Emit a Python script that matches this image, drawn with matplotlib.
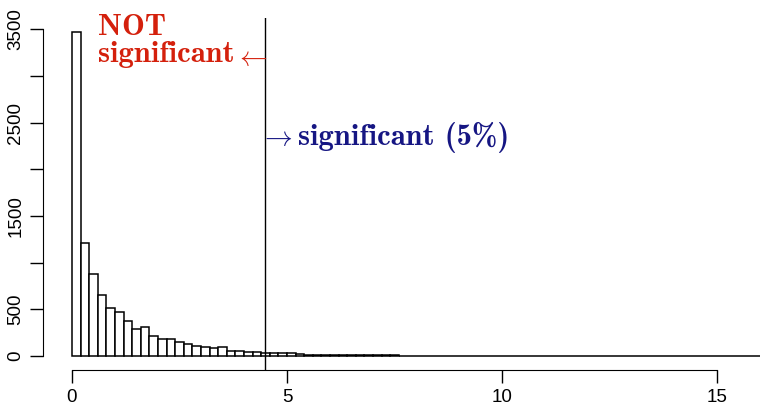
import matplotlib.pyplot as plt

plt.rcParams['mathtext.fontset'] = 'cm'

# histogram counts, bin width 0.2 starting at 0
bin_width = 0.2
counts = [3470, 1215, 875, 655, 515, 470, 375, 290, 315, 215,
          185, 178, 155, 130, 112, 92, 82, 100, 56, 52,
          44, 43, 36, 30, 36, 30, 22, 16, 15, 14,
          15, 12, 13, 9, 8, 7, 8, 6, 5, 4,
          3, 2, 3, 1, 2, 2, 1, 1, 0, 2,
          1, 1, 0, 1, 1, 0, 1, 0, 1, 1,
          0, 0, 1, 1, 0, 1, 0, 0, 1, 1,
          0, 1, 1, 0, 1, 0, 1, 1, 0, 1]
edges = [i * bin_width for i in range(len(counts))]
cutoff = 4.49

xticks = [0, 5, 10, 15]
yticks = [0, 500, 1000, 1500, 2000, 2500, 3000, 3500]
ylabels = ['0', '500', '', '1500', '', '2500', '', '3500']

fig = plt.figure(figsize=(7.61, 4.05), dpi=100)
ax = fig.add_axes([43 / 761, 35 / 405, 718 / 761, 352 / 405])

ax.bar(edges, counts, width=bin_width, align='edge',
       facecolor='white', edgecolor='black', linewidth=1.1)
ax.axvline(cutoff, color='black', linewidth=1.0)

ax.set_xlim(-0.674, 16.02)
ax.set_ylim(-150, 3620)

for s in ['top', 'right']:
    ax.spines[s].set_visible(False)
ax.spines['left'].set_bounds(0, 3500)
ax.spines['bottom'].set_bounds(0, 15)

ax.set_xticks(xticks)
ax.set_xticklabels([str(t) for t in xticks])
ax.set_yticks(yticks)
ax.set_yticklabels(ylabels, rotation=90, va='center')
ax.tick_params(length=9.5, width=1.0, labelsize=13.5, pad=4)
for lab in ax.get_xticklabels() + ax.get_yticklabels():
    lab.set_fontfamily('Liberation Sans')

red = '#d4200c'
blue = '#161683'
ax.text(0.605, 3437, 'NOT', color=red, fontsize=22, family='cmb10',
        ha='left', va='baseline')
ax.text(0.605, 3148, 'significant', color=red, fontsize=22, family='cmb10',
        ha='left', va='baseline')
ax.text(cutoff + 0.07, 3201, r'$\leftarrow$', color=red, fontsize=20,
        ha='right', va='center')
ax.text(cutoff - 0.11, 2345, r'$\rightarrow$', color=blue, fontsize=20,
        ha='left', va='center')
ax.text(5.256, 2260, 'significant (5%)', color=blue, fontsize=22,
        family='cmb10', ha='left', va='baseline')

fig.savefig('out.png', dpi=100)
